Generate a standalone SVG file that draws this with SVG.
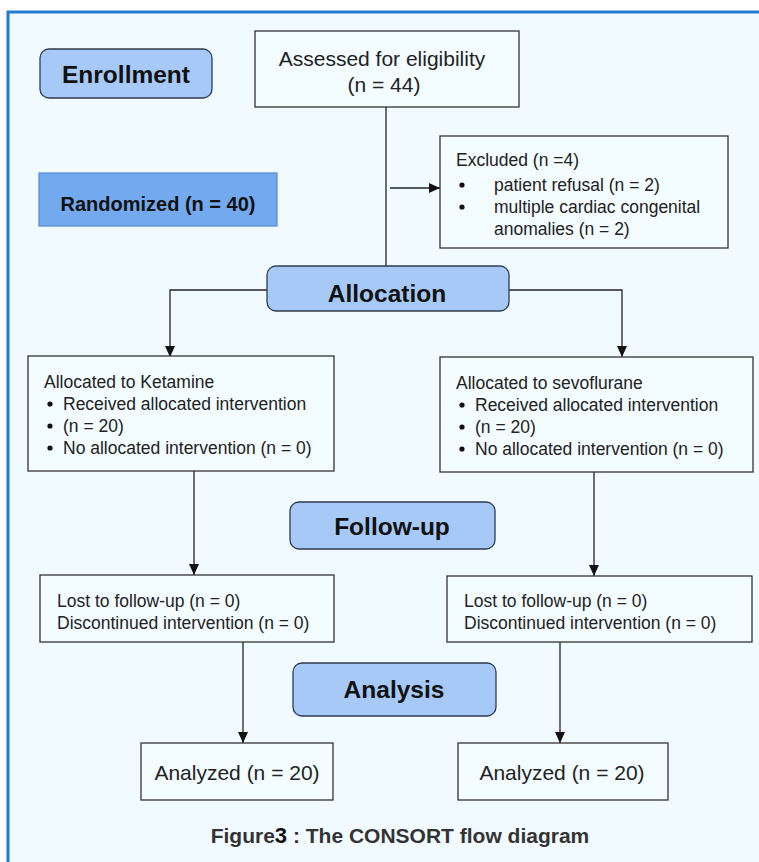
<svg xmlns="http://www.w3.org/2000/svg" width="759" height="862" viewBox="0 0 759 862">
<defs>
<marker id="ah" markerWidth="12" markerHeight="12" refX="11" refY="6" orient="auto" markerUnits="userSpaceOnUse">
<path d="M0,1 L11,6 L0,11 Z" fill="#111"/>
</marker>
<style>
.box{fill:#f3fcff;stroke:#333;stroke-width:1.3}
.stage{fill:#a6c9f8;stroke:#2e3a52;stroke-width:1.3}
.t{font-family:"Liberation Sans",Arial,sans-serif;font-size:17.5px;fill:#222}
.big{font-family:"Liberation Sans",Arial,sans-serif;font-size:21px;fill:#222}
.sb{font-family:"Liberation Sans",Arial,sans-serif;font-size:24.5px;font-weight:bold;fill:#111;text-anchor:middle}
.ln{fill:none;stroke:#222;stroke-width:1.3}
</style>
</defs>
<rect x="0" y="0" width="759" height="862" fill="#ffffff"/>
<rect x="8" y="12" width="760" height="870" fill="#f1fbff" stroke="#1f7ad0" stroke-width="3"/>

<g id="connectors">
<path class="ln" d="M386,107 V266"/>
<path class="ln" d="M390,188 H440" marker-end="url(#ah)"/>
<path class="ln" d="M267,290 H170 V357" marker-end="url(#ah)"/>
<path class="ln" d="M509,290 H622 V357" marker-end="url(#ah)"/>
<path class="ln" d="M194,471 V575" marker-end="url(#ah)"/>
<path class="ln" d="M594,472 V576" marker-end="url(#ah)"/>
<path class="ln" d="M243,642 V743" marker-end="url(#ah)"/>
<path class="ln" d="M560,642 V743" marker-end="url(#ah)"/>
</g>

<g id="enrollment">
<rect class="stage" x="40" y="49" width="172" height="49" rx="9"/>
<text class="sb" x="126" y="83">Enrollment</text>
</g>

<g id="assessed">
<rect class="box" x="255" y="31" width="264" height="76"/>
<text class="big" x="382" y="66" text-anchor="middle">Assessed for eligibility</text>
<text class="big" x="384" y="92" text-anchor="middle">(n = 44)</text>
</g>

<g id="randomized">
<rect x="39" y="173" width="238" height="53" fill="#73a9ee" stroke="#5a90d6" stroke-width="1.3"/>
<text x="158" y="211" font-family="Liberation Sans,Arial,sans-serif" font-size="20" font-weight="bold" fill="#111" text-anchor="middle">Randomized (n = 40)</text>
</g>

<g id="excluded">
<rect class="box" x="440" y="136" width="288" height="112"/>
<text class="t" x="456" y="166">Excluded (n =4)</text>
<circle cx="462" cy="185" r="2.6" fill="#111"/>
<text class="t" x="494" y="191">patient refusal (n = 2)</text>
<circle cx="462" cy="207" r="2.6" fill="#111"/>
<text class="t" x="494" y="213">multiple cardiac congenital</text>
<text class="t" x="494" y="235">anomalies (n = 2)</text>
</g>

<g id="allocation">
<rect class="stage" x="267" y="266" width="242" height="45" rx="9"/>
<text class="sb" x="387" y="302">Allocation</text>
</g>

<g id="ketamine">
<rect class="box" x="28" y="356" width="306" height="115"/>
<text class="t" x="44" y="388">Allocated to Ketamine</text>
<circle cx="50" cy="404" r="2.6" fill="#111"/>
<text class="t" x="63" y="410">Received allocated intervention</text>
<circle cx="50" cy="426" r="2.6" fill="#111"/>
<text class="t" x="63" y="432">(n = 20)</text>
<circle cx="50" cy="448" r="2.6" fill="#111"/>
<text class="t" x="63" y="454">No allocated intervention (n = 0)</text>
</g>

<g id="sevoflurane">
<rect class="box" x="440" y="357" width="313" height="115"/>
<text class="t" x="456" y="389">Allocated to sevoflurane</text>
<circle cx="462" cy="405" r="2.6" fill="#111"/>
<text class="t" x="475" y="411">Received allocated intervention</text>
<circle cx="462" cy="427" r="2.6" fill="#111"/>
<text class="t" x="475" y="433">(n = 20)</text>
<circle cx="462" cy="449" r="2.6" fill="#111"/>
<text class="t" x="475" y="455">No allocated intervention (n = 0)</text>
</g>

<g id="followup">
<rect class="stage" x="290" y="502" width="205" height="47" rx="9"/>
<text class="sb" x="392" y="535">Follow-up</text>
</g>

<g id="lost-left">
<rect class="box" x="40" y="575" width="294" height="67"/>
<text class="t" x="57" y="607">Lost to follow-up (n = 0)</text>
<text class="t" x="57" y="629">Discontinued intervention (n = 0)</text>
</g>

<g id="lost-right">
<rect class="box" x="447" y="576" width="305" height="66"/>
<text class="t" x="464" y="607">Lost to follow-up (n = 0)</text>
<text class="t" x="464" y="629">Discontinued intervention (n = 0)</text>
</g>

<g id="analysis">
<rect class="stage" x="293" y="663" width="203" height="53" rx="9"/>
<text class="sb" x="394" y="698">Analysis</text>
</g>

<g id="analyzed-left">
<rect class="box" x="141" y="743" width="192" height="57"/>
<text class="big" x="237" y="780" text-anchor="middle">Analyzed (n = 20)</text>
</g>

<g id="analyzed-right">
<rect class="box" x="458" y="743" width="210" height="57"/>
<text class="big" x="562" y="780" text-anchor="middle">Analyzed (n = 20)</text>
</g>

<text x="400" y="843" font-family="Liberation Sans,Arial,sans-serif" font-size="21" font-weight="bold" fill="#333" text-anchor="middle">Figure<tspan font-size="22" fill="#111">3</tspan> : The CONSORT flow diagram</text>
</svg>
